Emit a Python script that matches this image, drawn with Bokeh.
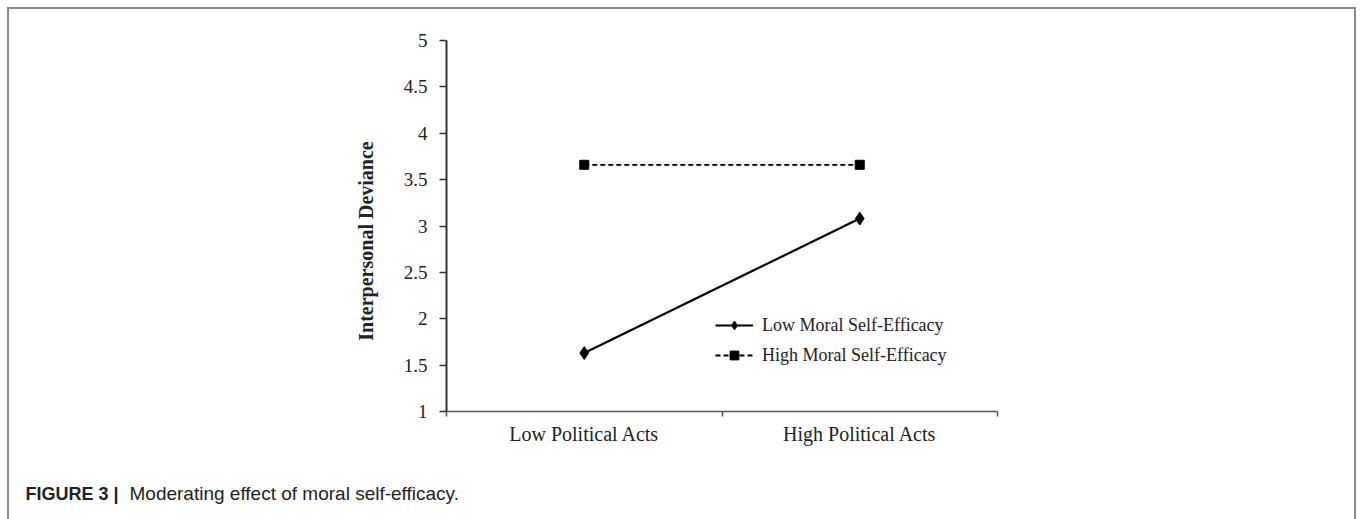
from bokeh.plotting import figure
from bokeh.models import (Range1d, FixedTicker, Legend, LegendItem, Label, InlineStyleSheet)
from bokeh.embed import file_html
from bokeh.resources import INLINE

# ---- data ----
categories = ["Low Political Acts", "High Political Acts"]
low_moral = [1.63, 3.08]
high_moral = [3.66, 3.66]
y_ticks = [1, 1.5, 2, 2.5, 3, 3.5, 4, 4.5, 5]
y_tick_labels = ["1", "1.5", "2", "2.5", "3", "3.5", "4", "4.5", "5"]
series_names = ["Low Moral Self-Efficacy", "High Moral Self-Efficacy"]
y_title = "Interpersonal Deviance"
caption_bold = "FIGURE 3 |"
caption_text = "Moderating effect of moral self-efficacy."

x_pos = [i + 0.5 for i in range(len(categories))]
x_bounds = [float(i) for i in range(len(categories) + 1)]

SERIF = "Liberation Serif"
SANS = "Liberation Sans"

p = figure(width=1360, height=519, output_backend="svg", toolbar_location=None,
           x_range=Range1d(0, len(categories)), y_range=Range1d(y_ticks[0], y_ticks[-1]),
           min_border_left=446, min_border_right=363, min_border_top=40, min_border_bottom=108)
p.outline_line_color = None
p.xgrid.visible = False
p.ygrid.visible = False
p.background_fill_color = "white"
p.border_fill_color = "white"

# outer gray frame of the figure panel (page decoration, drawn with CSS)
p.stylesheets = [InlineStyleSheet(css=(
    ":host { position: relative; }"
    ":host::after { content: ''; position: absolute; left: 7px; top: 7px; "
    "width: 1349px; height: 512px; border: 2px solid #8a8a8a; border-bottom: none; "
    "box-sizing: border-box; pointer-events: none; }"))]

# y axis
yax = p.yaxis[0]
yax.ticker = FixedTicker(ticks=y_ticks, minor_ticks=[])
yax.major_label_overrides = {float(t): l for t, l in zip(y_ticks, y_tick_labels)}
yax.major_tick_out = 7
yax.major_tick_in = 0
yax.major_tick_line_color = "#333333"
yax.major_tick_line_width = 1.5
yax.axis_line_color = "#333333"
yax.axis_line_width = 2
yax.major_label_text_font = SERIF
yax.major_label_text_font_size = "19px"
yax.major_label_text_color = "#222222"
yax.major_label_standoff = 12
# trailing no-break spaces shift the centred title a little towards the bottom, as in the original
yax.axis_label = y_title + "\u00a0" * 6
yax.axis_label_text_font = SERIF
yax.axis_label_text_font_style = "bold"
yax.axis_label_text_font_size = "20px"
yax.axis_label_text_color = "#222222"
yax.axis_label_standoff = 24

# x axis
xax = p.xaxis[0]
xax.ticker = FixedTicker(ticks=x_pos, minor_ticks=x_bounds)
xax.major_label_overrides = {float(x): c for x, c in zip(x_pos, categories)}
xax.major_tick_out = 0
xax.major_tick_in = 0
xax.minor_tick_out = 5
xax.minor_tick_in = 0
xax.minor_tick_line_color = "#555555"
xax.minor_tick_line_width = 1.5
xax.axis_line_color = "#555555"
xax.axis_line_width = 1.5
xax.major_label_text_font = SERIF
xax.major_label_text_font_size = "20px"
xax.major_label_text_color = "#222222"
xax.major_label_standoff = 6

# series
l1 = p.line(x_pos, low_moral, line_color="black", line_width=2.2)
s1 = p.scatter(x_pos, low_moral, marker="diamond", size=13, color="black")
l2 = p.line(x_pos, high_moral, line_color="black", line_width=1.8, line_dash="5 3")
s2 = p.scatter(x_pos, high_moral, marker="square", size=9, color="black")

legend = Legend(items=[LegendItem(label=series_names[0], renderers=[l1, s1]),
                       LegendItem(label=series_names[1], renderers=[l2, s2])],
                location=(269, 45), orientation="vertical",
                border_line_color=None, background_fill_alpha=0,
                padding=0, margin=0, spacing=8, label_standoff=9,
                glyph_width=38, glyph_height=22, label_height=22,
                label_text_font=SERIF, label_text_font_size="18px",
                label_text_color="#222222")
p.add_layout(legend)

# caption (side panel below; each label gets its own row, so the second is offset by one row)
ROW = 21
CAP_Y = -26
p.add_layout(Label(x=-421, y=CAP_Y, x_units="screen", y_units="screen", text=caption_bold,
                   text_font=SANS, text_font_style="bold", text_font_size="18px",
                   text_color="#222222", text_baseline="alphabetic"), "below")
p.add_layout(Label(x=-317, y=CAP_Y + ROW, x_units="screen", y_units="screen", text=caption_text,
                   text_font=SANS, text_font_size="19px",
                   text_color="#222222", text_baseline="alphabetic"), "below")

open("out.html", "w").write(file_html(p, INLINE))
